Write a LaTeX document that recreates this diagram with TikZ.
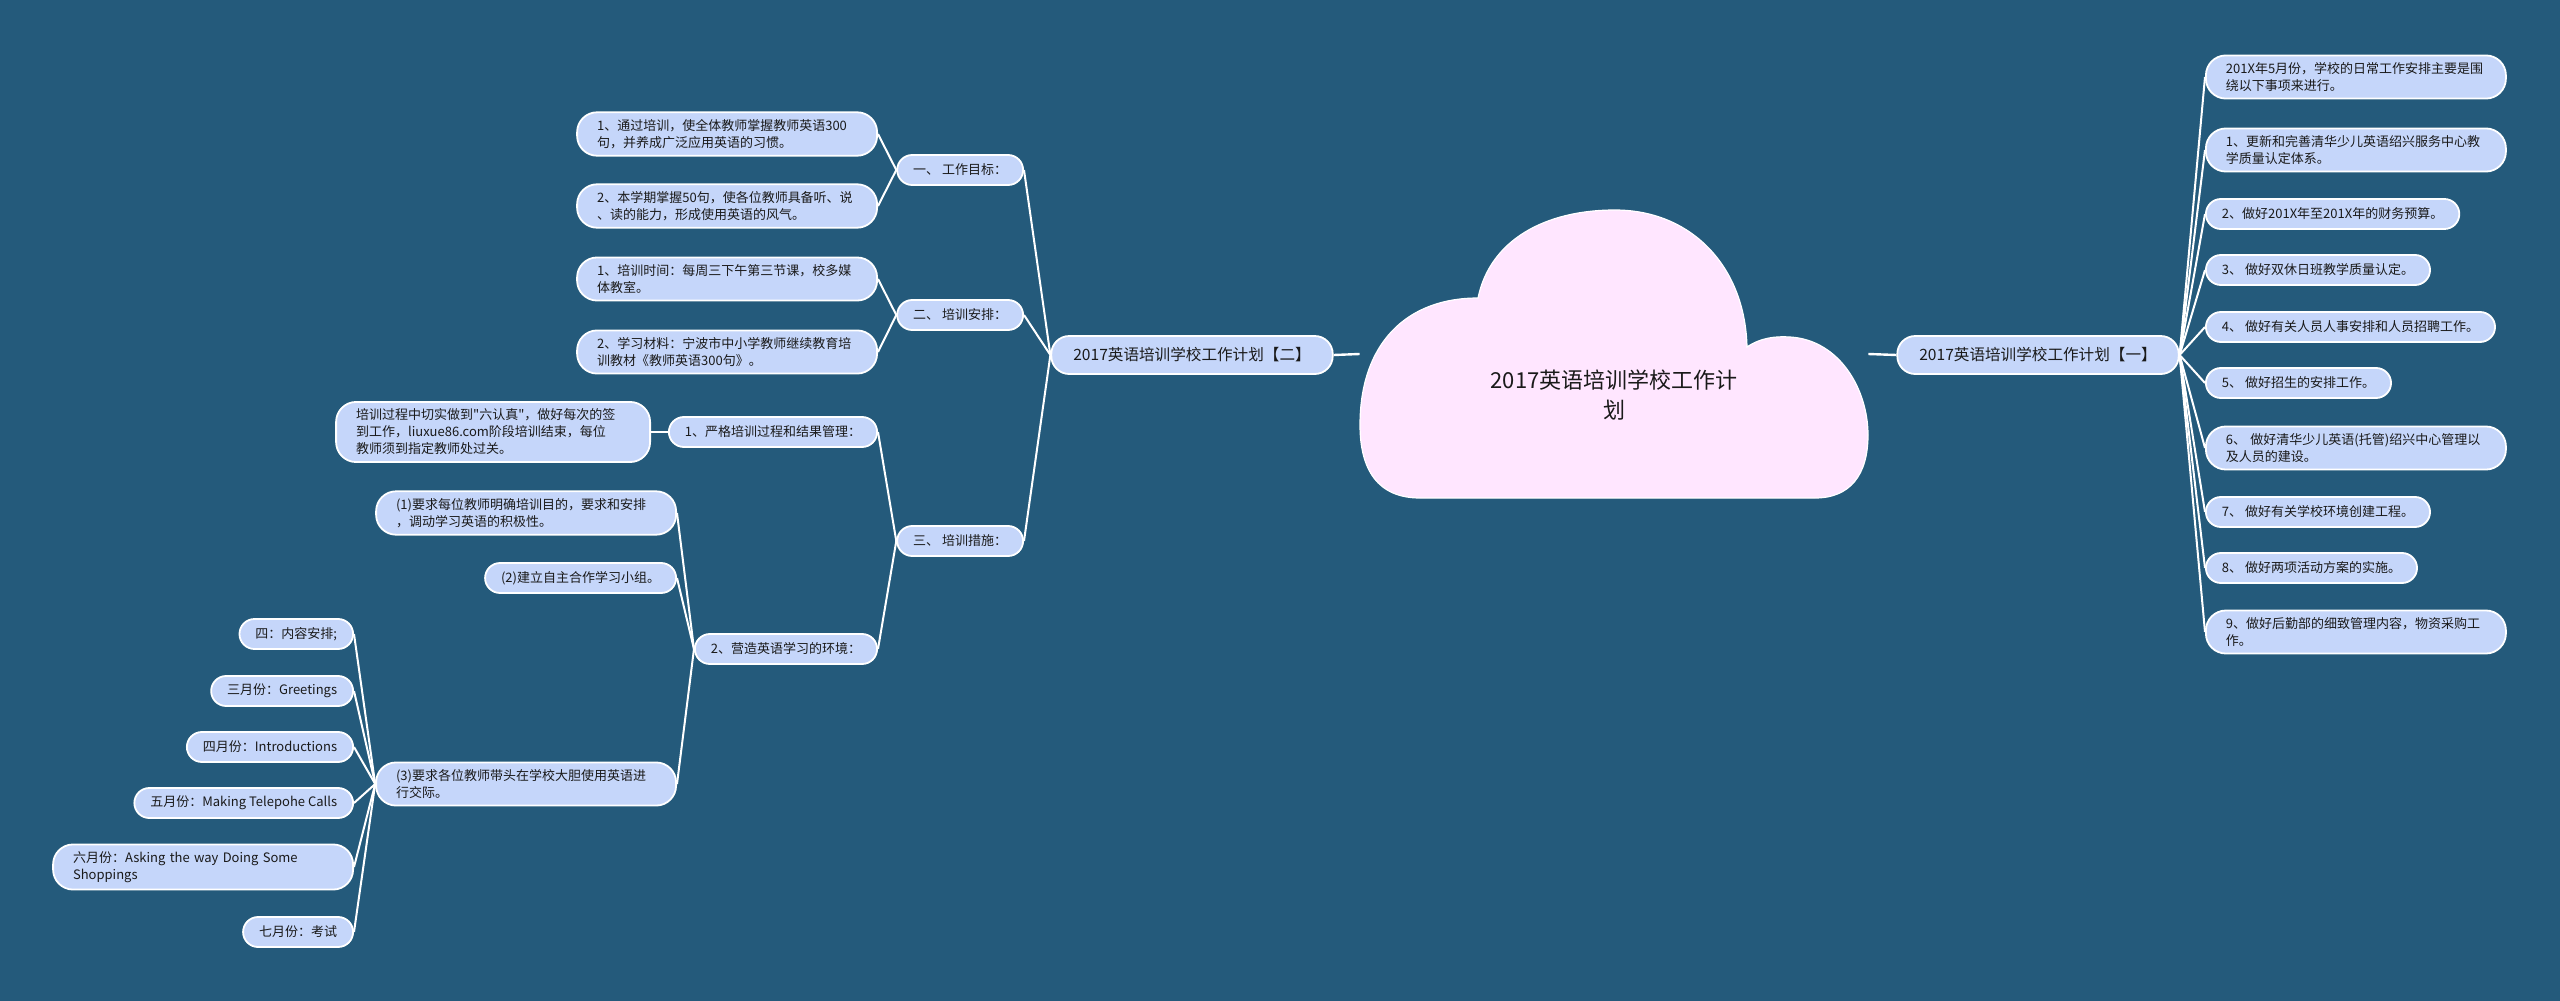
\documentclass[tikz,border=0pt]{standalone}
\usepackage{fontspec}
\setmainfont{Noto Sans CJK SC}[Ligatures=TeXOff]
\usepackage{tikz}
\usetikzlibrary{calc}
\definecolor{mmBg}{HTML}{245A7B}
\definecolor{mmNode}{HTML}{C5D6FA}
\definecolor{mmCloud}{HTML}{FFE6FF}
\definecolor{mmText}{HTML}{1A1A1A}
\tikzset{
  mmBase/.style={
    draw=white,
    fill=mmNode,
    line width=0.9pt,
    rounded corners=7.5pt,
    text=mmText,
    inner ysep=3.5pt
  },
  mmMain/.style={
    mmBase,
    font=\fontsize{7.8pt}{9pt}\selectfont,
    minimum height=19pt,
    inner xsep=11pt,
    rounded corners=9pt
  },
  mmLeaf/.style={
    mmBase,
    font=\fontsize{6.5pt}{8.5pt}\selectfont,
    minimum height=15pt,
    inner xsep=8pt
  },
  mmWide/.style={
    mmLeaf,
    text width=#1,
    align=left,
    inner xsep=10pt,
    rounded corners=10pt
  },
  mmWide/.default=130pt,
  mmLink/.style={
    draw=white,
    line width=1pt,
    to path={.. controls ($(\tikztostart)!0.25!(\tikztotarget)$ |- \tikztotarget)
      and ($(\tikztostart)!0.5!(\tikztotarget)$ |- \tikztotarget) .. (\tikztotarget)}
  },
  mmLine/.style={draw=white, line width=1.2pt}
}

\begin{document}
\begin{tikzpicture}[x=0.5pt, y=-0.5pt]
  \fill[mmBg] (0,0) rectangle (2560,1001);
  \useasboundingbox (0,0) rectangle (2560,1001);

  % central cloud
  \filldraw[fill=mmCloud, draw=white, line width=0.6pt]
    (1420,498) .. controls (1378,498) and (1360,470) .. (1360,425)
    .. controls (1360,345) and (1405,298) .. (1478,298)
    .. controls (1490,240) and (1545,210) .. (1615,210)
    .. controls (1690,210) and (1745,265) .. (1747,347)
    .. controls (1760,338) and (1775,336) .. (1790,337)
    .. controls (1840,340) and (1868,390) .. (1868,435)
    .. controls (1868,475) and (1850,498) .. (1815,498)
    -- cycle;
  \node[minimum width=254pt, minimum height=144pt, inner sep=0pt] (root) at (1614,354) {};
  \node[font=\fontsize{11pt}{15pt}\selectfont, align=center, text=mmText] (rootText)
    at (1614,395) {2017英语培训学校工作计\\划};

  % main branches
  \node[mmMain] (L) at (1192,355) {2017英语培训学校工作计划【二】};
  \node[mmMain] (R) at (2038,355) {2017英语培训学校工作计划【一】};

  % right side
  \node[mmWide, anchor=west] (R0) at (2205,77) {201X年5月份，学校的日常工作安排主要是围\\绕以下事项来进行。};
  \node[mmWide, anchor=west] (R1) at (2205,150) {1、更新和完善清华少儿英语绍兴服务中心教\\学质量认定体系。};
  \node[mmLeaf, anchor=west] (R2) at (2205,214) {2、做好201X年至201X年的财务预算。};
  \node[mmLeaf, anchor=west] (R3) at (2205,270) {3、 做好双休日班教学质量认定。};
  \node[mmLeaf, anchor=west] (R4) at (2205,327) {4、 做好有关人员人事安排和人员招聘工作。};
  \node[mmLeaf, anchor=west] (R5) at (2205,383) {5、 做好招生的安排工作。};
  \node[mmWide, anchor=west] (R6) at (2205,448) {6、 做好清华少儿英语(托管)绍兴中心管理以\\及人员的建设。};
  \node[mmLeaf, anchor=west] (R7) at (2205,512) {7、 做好有关学校环境创建工程。};
  \node[mmLeaf, anchor=west] (R8) at (2205,568) {8、 做好两项活动方案的实施。};
  \node[mmWide, anchor=west] (R9) at (2205,632) {9、做好后勤部的细致管理内容，物资采购工\\作。};

  % left side
  \node[mmLeaf, anchor=east] (A) at (1024,170) {一、 工作目标：};
  \node[mmLeaf, anchor=east] (B) at (1024,315) {二、 培训安排：};
  \node[mmLeaf, anchor=east] (C) at (1024,541) {三、 培训措施：};

  \node[mmWide, anchor=east] (A1) at (878,134) {1、通过培训，使全体教师掌握教师英语300\\句，并养成广泛应用英语的习惯。};
  \node[mmWide, anchor=east] (A2) at (878,206) {2、本学期掌握50句，使各位教师具备听、说\\、读的能力，形成使用英语的风气。};
  \node[mmWide, anchor=east] (B1) at (878,279) {1、培训时间：每周三下午第三节课，校多媒\\体教室。};
  \node[mmWide, anchor=east] (B2) at (878,352) {2、学习材料：宁波市中小学教师继续教育培\\训教材《教师英语300句》。};

  \node[mmLeaf, anchor=east] (C1) at (878,432) {1、严格培训过程和结果管理：};
  \node[mmLeaf, anchor=east] (C2) at (878,649) {2、营造英语学习的环境：};
  \node[mmWide=137pt, anchor=east] (C1a) at (651,432) {培训过程中切实做到"六认真"，做好每次的签\\到工作，liuxue86.com阶段培训结束，每位\\教师须到指定教师处过关。};
  \node[mmWide, anchor=east] (C2a) at (677,513) {(1)要求每位教师明确培训目的，要求和安排\\，调动学习英语的积极性。};
  \node[mmLeaf, anchor=east] (C2b) at (677,578) {(2)建立自主合作学习小组。};
  \node[mmWide, anchor=east] (C2c) at (677,784) {(3)要求各位教师带头在学校大胆使用英语进\\行交际。};

  \node[mmLeaf, anchor=east] (D1) at (354,634) {四：内容安排;};
  \node[mmLeaf, anchor=east] (D2) at (354,691) {三月份：Greetings};
  \node[mmLeaf, anchor=east] (D3) at (354,747) {四月份：Introductions};
  \node[mmLeaf, anchor=east] (D4) at (354,803) {五月份：Making Telepohe Calls};
  \node[mmWide, anchor=east] (D5) at (354,867) {六月份：Asking the way Doing Some\\Shoppings};
  \node[mmLeaf, anchor=east] (D6) at (354,932) {七月份：考试};

  % connectors
  \draw[mmLine] (L.east) -- (root.west);
  \draw[mmLine] (root.east) -- (R.west);
  \draw[mmLine] (C1.west) -- (C1a.east);
  \foreach \c in {R0,R1,R2,R3,R4,R5,R6,R7,R8,R9}
    \draw[mmLink] (R.east) to (\c.west);
  \foreach \p/\c in {L/A,L/B,L/C,A/A1,A/A2,B/B1,B/B2,C/C1,C/C2,C2/C2a,C2/C2b,C2/C2c,
      C2c/D1,C2c/D2,C2c/D3,C2c/D4,C2c/D5,C2c/D6}
    \draw[mmLink] (\p.west) to (\c.east);
\end{tikzpicture}
\end{document}
